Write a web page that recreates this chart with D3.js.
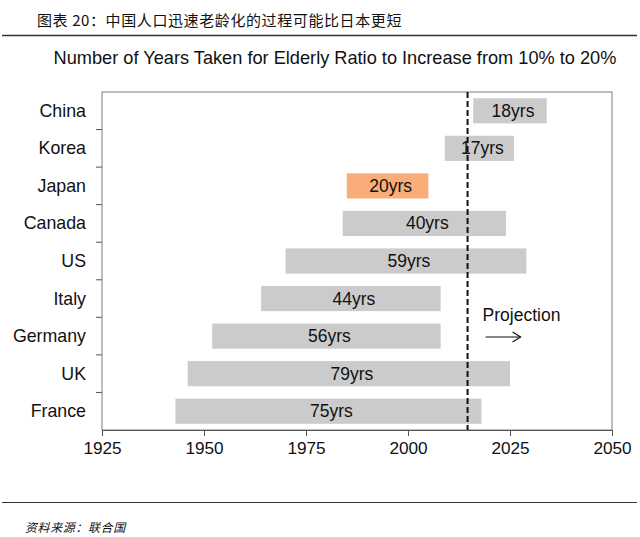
<!DOCTYPE html>
<html><head><meta charset="utf-8">
<script src="https://cdn.jsdelivr.net/npm/d3@7"></script>
<style>body{margin:0;background:#fff}svg{display:block}</style>
</head><body>
<svg id="c" width="640" height="537"></svg>
<script>
const countries = ["China","Korea","Japan","Canada","US","Italy","Germany","UK","France"];
const startYears = [2016,2009,1985,1984,1970,1964,1952,1946,1943];
const endYears   = [2034,2026,2005,2024,2029,2008,2008,2025,2018];
const yearLabels = ["18yrs","17yrs","20yrs","40yrs","59yrs","44yrs","56yrs","79yrs","75yrs"];
const xTicks = [1925,1950,1975,2000,2025,2050];
const projectionYear = 2014.6;
const highlight = "Japan";

const svg = d3.select("#c");
const font = "'Liberation Sans', Arial, sans-serif";
const L = 102, R = 612, T = 92, B = 430;

const x = d3.scaleLinear().domain([1925,2050]).range([L,R]);
const y = d3.scaleBand().domain(countries).range([T,B]).paddingInner(0.33).paddingOuter(0.165);
const yb = d3.scaleBand().domain(countries).range([T,B]);

// header
svg.append("text").attr("x",37).attr("y",26).attr("font-family","'Noto Sans CJK SC', sans-serif")
  .attr("font-size",15).attr("letter-spacing",0.6).attr("fill","#111").text("图表 20：中国人口迅速老龄化的过程可能比日本更短");
svg.append("line").attr("x1",2).attr("x2",637).attr("y1",35.5).attr("y2",35.5).attr("stroke","#333").attr("stroke-width",1.5);

// title
svg.append("text").attr("x",335).attr("y",64).attr("text-anchor","middle").attr("font-family",font)
  .attr("font-size",18.2).attr("fill","#111").text("Number of Years Taken for Elderly Ratio to Increase from 10% to 20%");

// bars
const data = countries.map((c,i)=>({c, s:startYears[i], e:endYears[i], lab:yearLabels[i]}));
svg.append("g").selectAll("rect").data(data).join("rect")
  .attr("x",d=>x(d.s)).attr("width",d=>x(d.e)-x(d.s))
  .attr("y",d=>y(d.c)).attr("height",y.bandwidth())
  .attr("fill",d=>d.c===highlight?"#FAAD79":"#CBCBCB");

svg.append("g").selectAll("text").data(data).join("text")
  .attr("x",d=>(x(d.s)+x(d.e))/2+3).attr("y",d=>y(d.c)+y.bandwidth()/2+6)
  .attr("text-anchor","middle").attr("font-family",font).attr("font-size",17.5).attr("fill","#111")
  .text(d=>d.lab);

// plot frame
svg.append("rect").attr("x",L).attr("y",T).attr("width",R-L).attr("height",B-T)
  .attr("fill","none").attr("stroke","#7f7f7f").attr("stroke-width",1);

// left axis ticks (at band boundaries)
const bounds = countries.slice(1).map(c=>yb(c));
svg.append("g").selectAll("line").data(bounds).join("line")
  .attr("x1",L-6).attr("x2",L).attr("y1",d=>d).attr("y2",d=>d).attr("stroke","#555").attr("stroke-width",1);

// category labels
svg.append("g").selectAll("text").data(countries).join("text")
  .attr("x",86).attr("y",c=>yb(c)+yb.bandwidth()/2+6).attr("text-anchor","end")
  .attr("font-family",font).attr("font-size",17.8).attr("fill","#111").text(c=>c);

// bottom axis
const xa = svg.append("g").attr("transform",`translate(0,${B})`)
  .call(d3.axisBottom(x).tickValues(xTicks).tickFormat(d3.format("d")).tickSize(6).tickPadding(6));
xa.select(".domain").attr("stroke","#555");
xa.selectAll(".tick line").attr("stroke","#555");
xa.selectAll(".tick text").attr("font-family",font).attr("font-size",17.2).attr("fill","#111");

// projection line
svg.append("line").attr("x1",x(projectionYear)).attr("x2",x(projectionYear)).attr("y1",T).attr("y2",B)
  .attr("stroke","#111").attr("stroke-width",2).attr("stroke-dasharray","6,3");

svg.append("text").attr("x",x(projectionYear)+15).attr("y",321).attr("font-family",font)
  .attr("font-size",17.5).attr("fill","#111").text("Projection");
svg.append("line").attr("x1",x(projectionYear)+18).attr("x2",x(projectionYear)+53).attr("y1",337).attr("y2",337)
  .attr("stroke","#111").attr("stroke-width",1.2);
svg.append("path").attr("d",`M${x(projectionYear)+45},332 L${x(projectionYear)+53},337 L${x(projectionYear)+45},342`)
  .attr("fill","none").attr("stroke","#111").attr("stroke-width",1.2);

// footer
svg.append("line").attr("x1",2).attr("x2",637).attr("y1",502.5).attr("y2",502.5).attr("stroke","#333").attr("stroke-width",1.2);
svg.append("text").attr("x",25).attr("y",532).attr("font-family","'Noto Sans CJK SC', sans-serif")
  .attr("font-size",12).attr("letter-spacing",0.6).attr("font-style","italic").attr("fill","#111").text("资料来源：联合国");
</script>
</body></html>
